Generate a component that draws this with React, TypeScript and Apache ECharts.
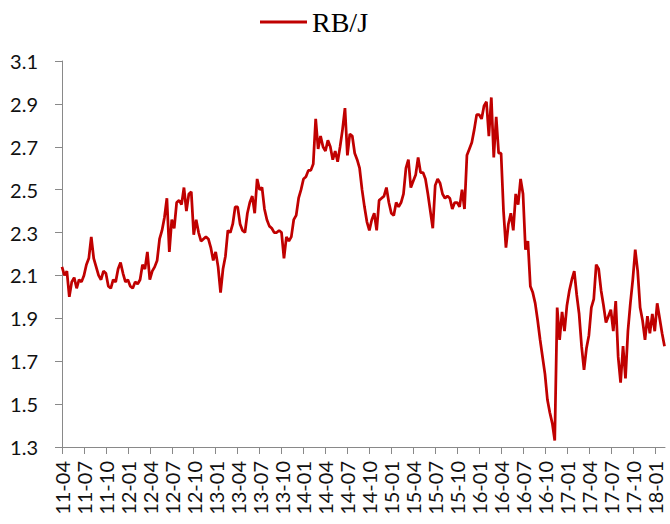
import React, { useEffect, useRef } from "react";
import * as echarts from "echarts";

// Quarter tick labels (every 3 months from 2011-04)
const tickLabels = [
  "11-04", "11-07", "11-10", "12-01", "12-04", "12-07", "12-10", "13-01",
  "13-04", "13-07", "13-10", "14-01", "14-04", "14-07", "14-10", "15-01",
  "15-04", "15-07", "15-10", "16-01", "16-04", "16-07", "16-10", "17-01",
  "17-04", "17-07", "17-10", "18-01",
];

const seriesName = "RB/J";

// RB/J ratio, three readings per month (1st, 11th, 21st), from 2011-04
const v2011 = [
  2.14, 2.10, 2.12, 2.00, 2.07, 2.09, 2.04, 2.08, 2.07,
  2.10, 2.15, 2.18, 2.28, 2.18, 2.14, 2.10, 2.08, 2.12,
  2.11, 2.05, 2.04, 2.08, 2.07, 2.13, 2.16, 2.11, 2.07,
];
const v2012 = [
  2.08, 2.05, 2.04, 2.07, 2.06, 2.08, 2.15, 2.13, 2.21,
  2.08, 2.12, 2.14, 2.17, 2.27, 2.31, 2.37, 2.46, 2.21,
  2.36, 2.32, 2.44, 2.45, 2.43, 2.51, 2.40, 2.48, 2.49,
  2.29, 2.36, 2.30, 2.26, 2.27, 2.28, 2.27, 2.23, 2.17,
];
const v2013 = [
  2.21, 2.14, 2.02, 2.13, 2.19, 2.31, 2.30, 2.34, 2.42,
  2.42, 2.34, 2.31, 2.30, 2.39, 2.44, 2.47, 2.39, 2.55,
  2.50, 2.51, 2.41, 2.36, 2.33, 2.32, 2.30, 2.30, 2.31,
  2.30, 2.18, 2.28, 2.26, 2.28, 2.36, 2.38, 2.46, 2.50,
];
const v2014 = [
  2.55, 2.56, 2.59, 2.59, 2.62, 2.83, 2.69, 2.75, 2.70,
  2.68, 2.73, 2.70, 2.64, 2.68, 2.63, 2.70, 2.78, 2.88,
  2.66, 2.76, 2.75, 2.67, 2.64, 2.60, 2.50, 2.42, 2.35,
  2.31, 2.36, 2.39, 2.31, 2.45, 2.46, 2.47, 2.51, 2.44,
];
const v2015 = [
  2.39, 2.38, 2.44, 2.42, 2.44, 2.48, 2.60, 2.64, 2.51,
  2.54, 2.57, 2.65, 2.58, 2.58, 2.55, 2.48, 2.40, 2.32,
  2.52, 2.55, 2.53, 2.48, 2.46, 2.47, 2.46, 2.41, 2.44,
  2.44, 2.42, 2.50, 2.41, 2.66, 2.69, 2.72, 2.78, 2.85,
];
const v2016 = [
  2.85, 2.83, 2.89, 2.91, 2.75, 2.93, 2.65, 2.84, 2.67,
  2.67, 2.40, 2.23, 2.34, 2.39, 2.31, 2.48, 2.43, 2.55,
  2.48, 2.22, 2.26, 2.05, 2.02, 1.97, 1.89, 1.80, 1.72,
  1.64, 1.52, 1.46, 1.41, 1.33, 1.95, 1.80, 1.93, 1.84,
];
const v2017 = [
  1.96, 2.03, 2.08, 2.12, 2.01, 1.92, 1.77, 1.66, 1.76,
  1.82, 1.95, 1.99, 2.15, 2.13, 2.03, 1.96, 1.88, 1.91,
  1.94, 1.84, 1.98, 1.72, 1.60, 1.77, 1.62, 1.84, 1.97,
  2.08, 2.22, 2.12, 1.95, 1.89, 1.80, 1.91, 1.83, 1.92,
];
const v2018 = [1.84, 1.97, 1.90, 1.83, 1.77];

const values = [...v2011, ...v2012, ...v2013, ...v2014, ...v2015, ...v2016, ...v2017, ...v2018];

export default function App() {
  const ref = useRef<HTMLDivElement>(null);

  useEffect(() => {
    if (!ref.current) return;
    const chart = echarts.init(ref.current, undefined, { renderer: "svg" });
    const axisColor = "#898989";
    const labelFont = "Lato";
    // x = months since 2011-04 (three readings per month)
    const data = values.map((v, i) => [i / 3, v]);
    const tickValues = tickLabels.map((_, k) => k * 3);

    chart.setOption({
      animation: false,
      backgroundColor: "#ffffff",
      legend: {
        data: [seriesName],
        left: 255,
        top: 3,
        icon: "rect",
        itemWidth: 47,
        itemHeight: 3,
        textStyle: { fontFamily: "Liberation Serif", fontSize: 28, color: "#000" },
      },
      grid: { left: 62, right: 5, top: 61, bottom: 77, outerBoundsMode: "none" },
      xAxis: {
        type: "value",
        min: 0,
        max: 82.4,
        interval: 3,
        splitLine: { show: false },
        axisLine: { lineStyle: { color: axisColor, width: 1 } },
        axisTick: { length: 7, lineStyle: { color: axisColor }, customValues: tickValues },
        axisLabel: {
          customValues: tickValues,
          rotate: 90,
          margin: 14,
          fontFamily: labelFont,
          fontSize: 20,
          color: "#111",
          formatter: (v: number) => {
            const k = Math.round(v / 3);
            return Math.abs(v - k * 3) < 1e-6 && tickLabels[k] ? tickLabels[k] : "";
          },
        },
      },
      yAxis: {
        type: "value",
        min: 1.3,
        max: 3.1,
        interval: 0.2,
        splitLine: { show: false },
        axisLine: { show: true, lineStyle: { color: axisColor, width: 1 } },
        axisTick: { show: true, length: 7, lineStyle: { color: axisColor } },
        axisLabel: {
          margin: 24,
          fontFamily: labelFont,
          fontSize: 20,
          color: "#111",
          formatter: (v: number) => v.toFixed(1),
        },
      },
      series: [
        {
          name: seriesName,
          type: "line",
          data,
          symbol: "none",
          showSymbol: false,
          lineStyle: { color: "#C00000", width: 2.75 },
          itemStyle: { color: "#C00000" },
        },
      ],
    });

    return () => chart.dispose();
  }, []);

  return (
    <div
      ref={ref}
      style={{ position: "absolute", left: 0, top: 0, width: 670, height: 524 }}
    />
  );
}
